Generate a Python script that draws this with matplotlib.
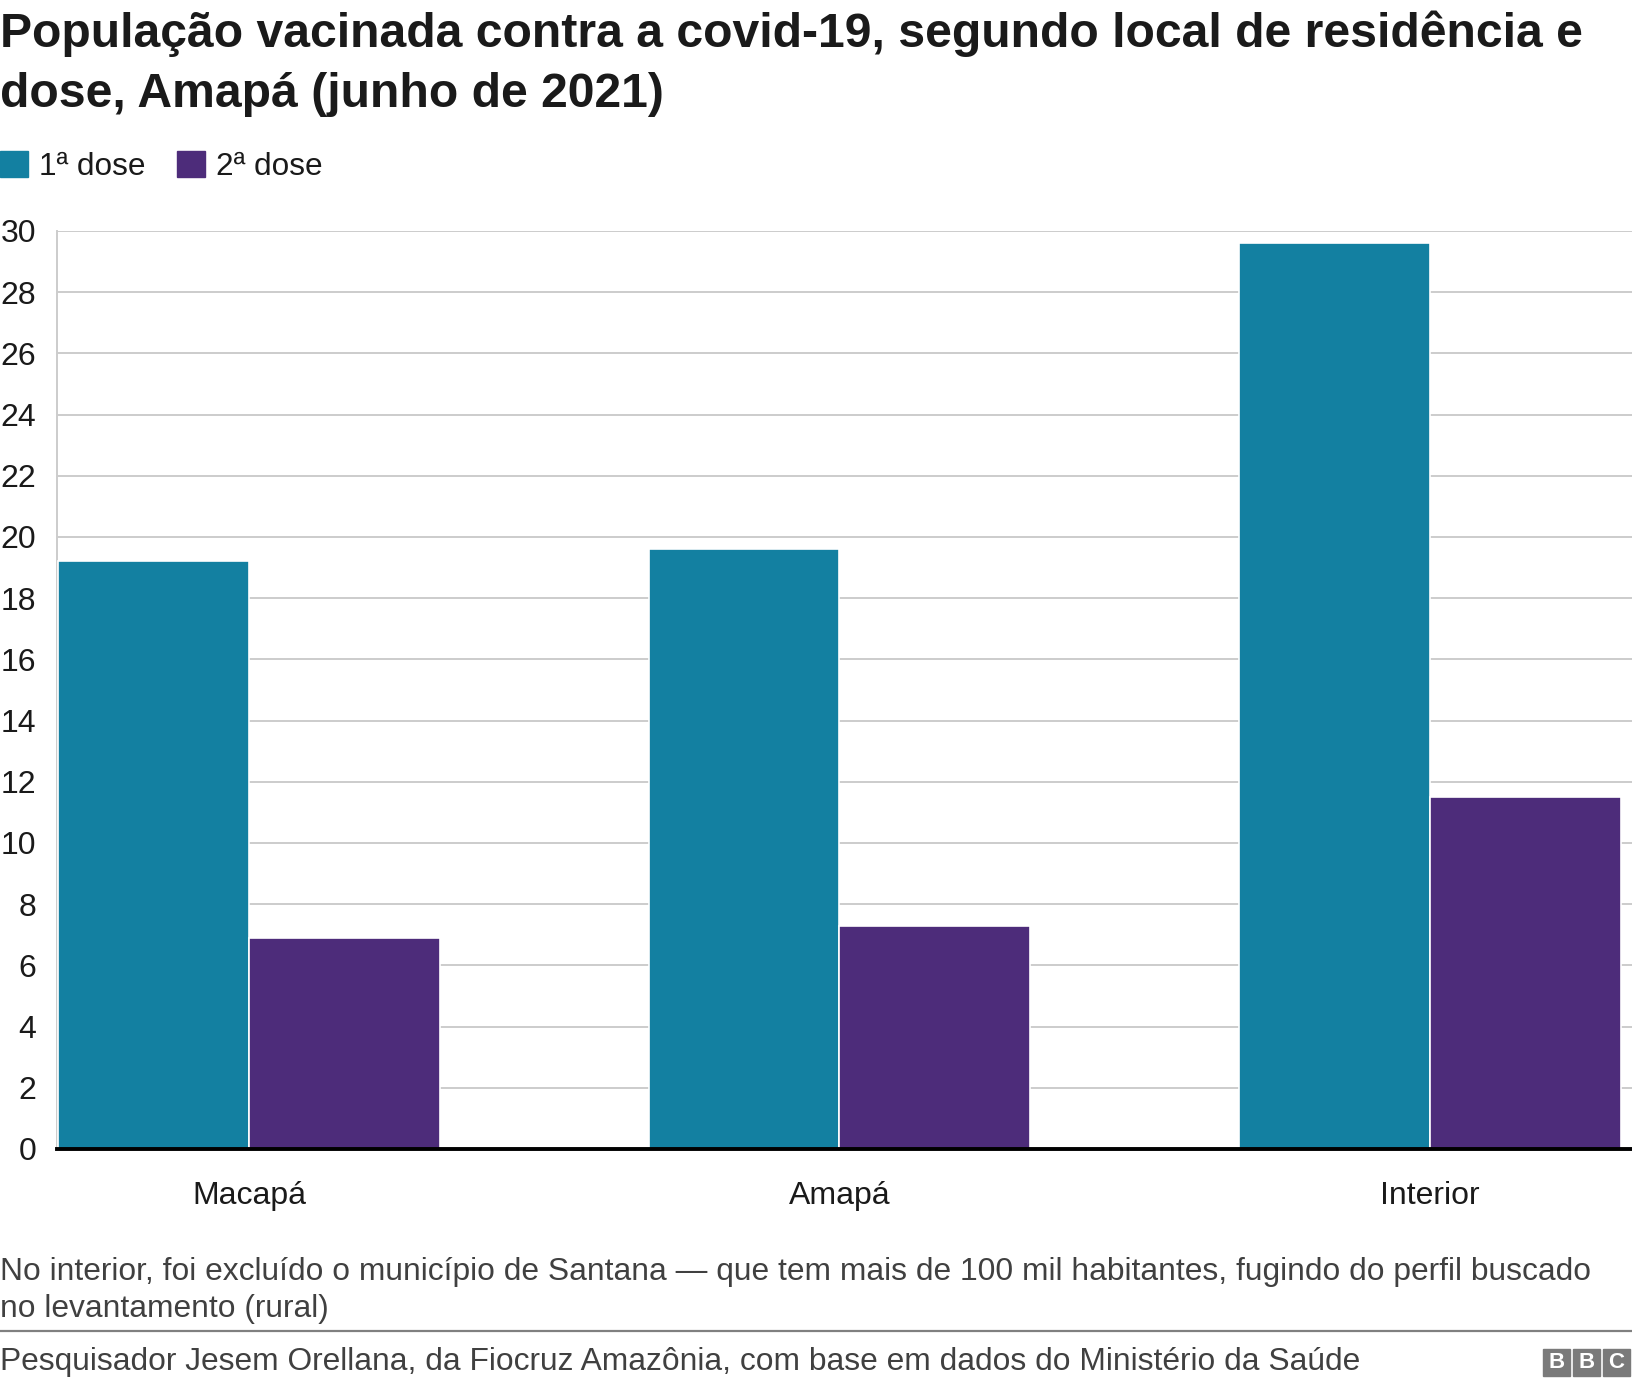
import matplotlib
matplotlib.use("Agg")
import matplotlib.pyplot as plt
from matplotlib.patches import Rectangle
import matplotlib.transforms as mtransforms
import numpy as np

plt.rcParams['font.family'] = ['Liberation Sans', 'DejaVu Sans']

categories = ["Macapá", "Amapá", "Interior"]
dose1 = [19.2, 19.6, 29.6]
dose2 = [6.9, 7.3, 11.5]
series_names = ["1ª dose", "2ª dose"]
yticks = list(range(0, 31, 2))

title_lines = ["População vacinada contra a covid-19, segundo local de residência e",
               "dose, Amapá (junho de 2021)"]
note_lines = ["No interior, foi excluído o município de Santana — que tem mais de 100 mil habitantes, fugindo do perfil buscado",
              "no levantamento (rural)"]
source = "Pesquisador Jesem Orellana, da Fiocruz Amazônia, com base em dados do Ministério da Saúde"

C1 = "#1380a1"
C2 = "#4d2c7a"
TXT = "#1a1a1a"
GREY = "#404040"

W, H = 1632, 1386
DPI = 100
fig = plt.figure(figsize=(W / DPI, H / DPI), dpi=DPI)

def fx(px):
    return px / W

def fy(py):
    return 1 - py / H

# axes: left 57, right 1632, top 231 (30), bottom 1149 (0)
ax = fig.add_axes([fx(57), fy(1149), fx(1632 - 57), (1149 - 231) / H])
x = np.arange(len(categories))
bw = 0.323
ax.bar(x - bw / 2, dose1, width=bw, color=C1, edgecolor="white", linewidth=1.2, zorder=3)
ax.bar(x + bw / 2, dose2, width=bw, color=C2, edgecolor="white", linewidth=1.2, zorder=3)
ax.set_xlim(-bw - 0.002, 2.342)
ax.set_ylim(0, 30)
ax.set_yticks(yticks)
ax.set_yticklabels([str(t) for t in yticks], fontsize=23, color=TXT)
ax.set_xticks(x)
ax.set_xticklabels([])
ax.tick_params(axis="y", length=0, pad=15)
ax.tick_params(axis="x", length=0)
ax.grid(axis="y", color="#cccccc", linewidth=1.4, zorder=0)
for s in ["top", "right"]:
    ax.spines[s].set_visible(False)
ax.spines["left"].set_color("#cccccc")
ax.spines["left"].set_linewidth(1.4)
ax.spines["bottom"].set_color("black")
ax.spines["bottom"].set_linewidth(2.8)
ax.spines["bottom"].set_zorder(5)

# category labels (x in data, y in figure)
trans = mtransforms.blended_transform_factory(ax.transData, fig.transFigure)
for xi, cat in zip(x, categories):
    ax.text(xi, fy(1204), cat, transform=trans, fontsize=23, color=TXT,
            ha="center", va="baseline")

# title
fig.text(fx(0), fy(47), title_lines[0], fontsize=34.7, fontweight="bold", color=TXT,
         va="baseline", ha="left")
fig.text(fx(0), fy(107), title_lines[1], fontsize=34.7, fontweight="bold", color=TXT,
         va="baseline", ha="left")

# legend
leg_x = [0, 177]
for x0, name, col in zip(leg_x, series_names, [C1, C2]):
    fig.patches.append(Rectangle((fx(x0), fy(177)), fx(28), 26 / H, transform=fig.transFigure,
                                 color=col, figure=fig))
    fig.text(fx(x0 + 39), fy(175), name, fontsize=22.7, color=TXT, va="baseline", ha="left")

# note
fig.text(fx(0), fy(1280), note_lines[0], fontsize=22.9, color=GREY, va="baseline", ha="left")
fig.text(fx(0), fy(1317), note_lines[1], fontsize=22.9, color=GREY, va="baseline", ha="left")

# separator line
fig.add_artist(plt.Line2D([0, 1], [fy(1331), fy(1331)], transform=fig.transFigure,
                          color="#808080", linewidth=1.6))

# source
fig.text(fx(0), fy(1370), source, fontsize=22.9, color=GREY, va="baseline", ha="left")

# BBC logo
for i, letter in enumerate("BBC"):
    lx = 1543 + i * 30
    fig.patches.append(Rectangle((fx(lx), fy(1376)), fx(27), 27 / H, transform=fig.transFigure,
                                 color="#7a7a7a", figure=fig))
    fig.text(fx(lx + 13.5), fy(1362.5), letter, fontsize=16, fontweight="bold", color="white",
             va="center", ha="center")

fig.savefig("out.png", dpi=DPI, facecolor="white")
